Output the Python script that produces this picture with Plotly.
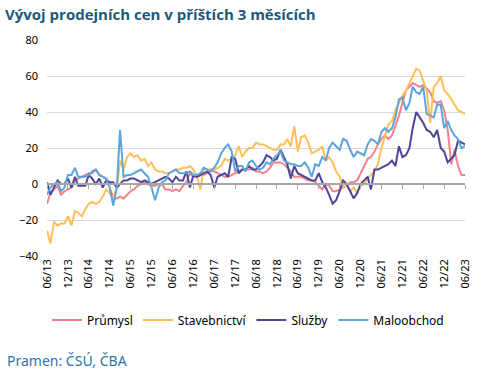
import pandas as pd
import plotly.graph_objects as go

months = pd.date_range("2013-06-01", periods=121, freq="MS")

prumysl = [-11, -5, -3, -1, -6, -4, -3, -2, 2, 3,
           4, 5, 6, 6, 8, 5, 4, 3, -2, -8,
           -8, -7, -8, -6, -4, -3, -1, 0, 1, 0,
           -1, -1, 0, 0, -3, -3, -4, -3, -4, -1,
           1, 6, 4, 4, 5, 5, 6, 8, 7, 6,
           5, 4, 4, 5, 6, 7, 8, 8, 8, 9,
           7, 7, 6, 7, 9, 12, 12, 12, 11, 9,
           7, 4, 4, 4, 3, 2, 2, 1, -1, -3,
           0, -1, -4, -4, -3, -2, -1, 1, 1, 2,
           6, 10, 14, 15, 18, 22, 25, 27, 25, 27,
           32, 38, 45, 52, 54, 56, 55, 54, 55, 53,
           51, 46, 45, 46, 41, 30, 11, 19, 10, 5,
           5]

stavebnictvi = [-26, -33, -21, -23, -22, -22, -18, -23, -15, -16,
                -18, -14, -11, -10, -11, -10, -7, -3, -5, -8,
                -2, 13, 8, 15, 17, 15, 16, 13, 14, 10,
                12, 8, 7, 7, 6, 6, 7, 8, 8, 9,
                9, 10, 8, 4, -3, 9, 8, 8, 8, 9,
                10, 14, 13, 14, 16, 21, 15, 18, 20, 20,
                23, 22, 22, 21, 20, 19, 19, 22, 22, 25,
                21, 32, 18, 26, 27, 23, 17, 18, 19, 21,
                13, 15, 12, 7, 4, -2, -1, -4, -2, -5,
                -1, 0, 3, 5, 7, 11, 20, 26, 33, 35,
                41, 45, 49, 52, 56, 60, 64, 63, 57, 52,
                34, 54, 56, 60, 52, 50, 47, 44, 41, 40,
                39]

sluzby = [1, -6, -2, 2, 0, 0, 3, -2, 4, -1,
          -1, -1, 5, 3, 0, 3, -2, 2, 1, 1,
          -2, 0, 2, 2, 3, 3, 2, 1, 2, 1,
          0, 1, 2, 3, 4, 3, 1, 4, 2, 2,
          7, -2, 5, 4, 5, 6, 7, 5, -2, 4,
          5, 6, 4, 15, 14, 6, 8, 8, 10, 8,
          8, 10, 12, 16, 15, 13, 14, 19, 15, 11,
          3, 10, 6, 5, 4, 3, 2, 2, 6, 1,
          -2, -6, -11, -9, -4, 2, 0, -4, -8, -5,
          0, 2, 4, -3, 8, 8, 9, 10, 11, 13,
          10, 21, 15, 16, 20, 31, 40, 37, 34, 30,
          29, 26, 30, 20, 18, 12, 14, 16, 24, 23,
          22]

maloobchod = [-6, -2, 0, 1, -4, -2, 5, 5, 9, 4,
              4, 4, 5, 7, 8, 5, 4, 3, -2, -12,
              -2, 30, 4, 5, 5, 6, 7, 8, 6, 4,
              -2, -9, -2, 1, 2, 6, 7, 8, 6, 6,
              6, 7, 5, 5, 6, 9, 8, 7, 9, 12,
              17, 20, 22, 18, 7, 10, 10, 7, 12, 13,
              10, 8, 9, 12, 11, 14, 16, 18, 13, 12,
              11, 11, 10, 10, 12, 9, 4, 11, 10, 15,
              13, 20, 23, 21, 19, 25, 24, 19, 15, 18,
              17, 16, 22, 25, 24, 22, 29, 31, 29, 31,
              37, 47, 48, 41, 45, 54, 51, 50, 54, 39,
              38, 37, 44, 44, 31, 35, 30, 27, 25, 20,
              21]

series_names = ["Průmysl", "Stavebnictví", "Služby", "Maloobchod"]
series_values = [prumysl, stavebnictvi, sluzby, maloobchod]
series_colors = ["#F4808D", "#FFBF57", "#4B469A", "#5AA5DC"]

tick_dates = pd.date_range("2013-06-01", "2023-06-01", freq="6MS")
tick_labels = [d.strftime("%m/%y") for d in tick_dates]
y_ticks = [-40, -20, 0, 20, 40, 60, 80]

fig = go.Figure()
for name, vals, col in zip(series_names, series_values, series_colors):
    fig.add_trace(go.Scatter(
        x=months, y=vals, name=name, mode="lines",
        line=dict(color=col, width=2),
        xaxis="x2" if name == "Maloobchod" else "x",
    ))

x_range = [months[0], months[-1]]
tick_font = dict(family="Noto Sans", size=11, color="#000000")

L, R, T, B = 47, 16, 40, 117
PW, PH = 481 - L - R, 373 - T - B

fig.update_layout(
    width=481, height=373,
    margin=dict(l=L, r=R, t=T, b=B, autoexpand=False),
    paper_bgcolor="white", plot_bgcolor="white",
    title=dict(
        text="<b>Vývoj prodejních cen v příštích 3 měsících</b>",
        font=dict(family="Open Sans", size=15, color="#1F5878"),
        xref="container", x=5 / 481, xanchor="left",
        yref="container", y=1 - 15 / 373, yanchor="middle",
    ),
    xaxis=dict(
        type="date", range=x_range, automargin=False,
        tickvals=list(tick_dates), ticktext=tick_labels,
        tickangle=-90, ticks="", showgrid=False, showline=False,
        zeroline=False, tickfont=tick_font,
    ),
    xaxis2=dict(
        type="date", range=x_range, overlaying="x", automargin=False,
        anchor="free", position=1 / 3,
        tickvals=list(tick_dates), showticklabels=False,
        ticks="outside", ticklen=4, tickcolor="#A6A6A6", tickwidth=1,
        showline=True, linecolor="#A6A6A6", linewidth=1.5,
        showgrid=False, zeroline=False,
    ),
    yaxis=dict(
        range=[-40, 80], tickvals=y_ticks, automargin=False,
        showgrid=True, gridcolor="#D9D9D9", gridwidth=1,
        zeroline=False, showline=False, ticks="",
        ticklabelstandoff=8, tickfont=tick_font,
    ),
    legend=dict(
        orientation="h",
        x=(248 - L) / PW, xanchor="center",
        y=(373 - B - 320) / PH, yanchor="middle",
        font=dict(family="Noto Sans", size=12, color="#000000"),
        itemwidth=30, tracegroupgap=0,
    ),
    showlegend=True,
    annotations=[dict(
        text="Pramen: ČSÚ, ČBA", xref="paper", yref="paper",
        x=(5 - L) / PW, y=(373 - B - 360) / PH, xanchor="left", yanchor="middle",
        showarrow=False, font=dict(family="Noto Sans", size=14, color="#2E74A6"),
    )],
)

fig.write_html(
    "out.html",
    config={"displayModeBar": False},
    post_script="document.body.style.margin='0';document.body.style.padding='0';",
)
